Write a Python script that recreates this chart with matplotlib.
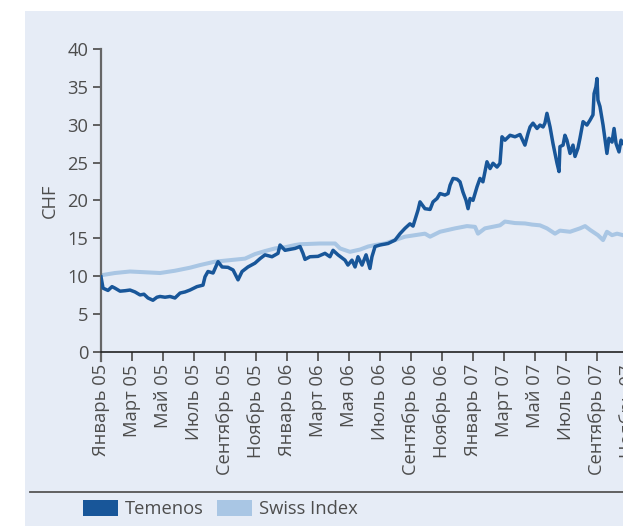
import matplotlib
matplotlib.use("Agg")
import matplotlib.pyplot as plt
from matplotlib.patches import Rectangle, Patch
from matplotlib.lines import Line2D

plt.rcParams['font.family'] = ['Open Sans', 'DejaVu Sans']

# month index (0 = January 2005)
temenos_m = [0.02, 0.15, 0.47, 0.73, 0.92, 1.25, 1.57, 1.89, 2.21, 2.54, 2.79, 3.05, 3.37, 3.63,
             3.83, 4.15, 4.47, 4.79, 5.12, 5.44, 5.76, 6.21, 6.60, 6.73, 6.92, 7.25, 7.57, 7.83,
             8.21, 8.54, 8.86, 9.12, 9.50, 9.95, 10.28, 10.60, 11.05, 11.44, 11.57, 11.89, 12.54,
             12.86, 13.05, 13.18, 13.50, 14.02, 14.47, 14.79, 14.99, 15.31, 15.76, 15.95, 16.21,
             16.41, 16.60, 16.86, 17.12, 17.37, 17.50, 17.70, 18.02, 18.54, 18.99, 19.31, 19.63,
             19.95, 20.15, 20.47, 20.60, 20.92, 21.25, 21.44, 21.70, 21.89, 22.21, 22.41, 22.54,
             22.73, 22.99, 23.18, 23.37, 23.57, 23.70, 23.83, 24.02, 24.28, 24.47, 24.66, 24.92,
             25.12, 25.31, 25.57, 25.76, 25.89, 26.08, 26.41, 26.73, 27.05, 27.37, 27.57, 27.70,
             27.89, 28.15, 28.34, 28.54, 28.66, 28.79, 28.99, 29.18, 29.31, 29.44, 29.57, 29.63,
             29.83, 29.95, 30.08, 30.28, 30.47, 30.60, 30.79, 30.92, 31.12, 31.37, 31.57, 31.76,
             31.83, 31.95, 32.02, 32.08, 32.21, 32.41, 32.54, 32.66, 32.79, 32.99, 33.12, 33.25,
             33.44, 33.57, 33.70, 34.02]
temenos_v = [9.9, 8.4, 8.1, 8.6, 8.4, 8.0, 8.06, 8.15, 7.9, 7.5, 7.6, 7.1, 6.8, 7.2,
             7.3, 7.2, 7.3, 7.1, 7.75, 7.9, 8.15, 8.6, 8.8, 9.9, 10.6, 10.4, 11.9, 11.2,
             11.15, 10.8, 9.5, 10.6, 11.2, 11.7, 12.3, 12.8, 12.55, 13.0, 14.1, 13.4, 13.65,
             13.9, 13.0, 12.2, 12.55, 12.6, 13.0, 12.55, 13.4, 12.8, 12.1, 11.45, 12.1,
             11.2, 12.55, 11.45, 12.8, 11.0, 12.55, 13.9, 14.1, 14.3, 14.75, 15.6, 16.3,
             16.9, 16.6, 18.7, 19.8, 18.9, 18.8, 19.8, 20.25, 20.9, 20.7, 20.9, 22.0,
             22.9, 22.8, 22.45, 21.1, 20.0, 18.9, 20.25, 20.0, 21.8, 22.9, 22.45, 25.1,
             24.2, 24.9, 24.4, 24.9, 28.4, 27.95, 28.6, 28.4, 28.7, 27.3, 28.85, 29.7,
             30.2, 29.5, 29.95, 29.7, 30.2, 31.5, 29.7, 27.5, 26.2, 24.9, 23.8, 27.1,
             27.3, 28.6, 27.95, 26.2, 27.3, 25.8, 26.9, 28.2, 30.4, 29.95, 30.6, 31.3,
             34.1, 35.0, 36.1, 33.25, 32.4, 29.95, 27.95, 26.2, 28.2, 27.7, 29.5, 27.5,
             26.4, 27.95, 27.5, 27.0]

swiss_m = [0.02, 0.92, 1.89, 2.86, 3.83, 4.79, 5.76, 6.41, 7.37, 8.34, 9.31, 9.95, 10.60,
           11.25, 11.89, 12.54, 12.86, 14.15, 15.12, 15.44, 16.08, 16.73, 17.25, 17.70, 18.34,
           18.99, 19.63, 20.28, 20.92, 21.25, 21.89, 22.86, 23.63, 24.15, 24.34, 24.79, 25.76,
           26.08, 26.73, 27.37, 27.83, 28.34, 28.79, 29.31, 29.63, 30.28, 30.92, 31.25, 31.57,
           32.08, 32.41, 32.66, 32.99, 33.31, 33.70, 34.02]
swiss_v = [10.1, 10.4, 10.6, 10.5, 10.4, 10.7, 11.1, 11.45, 11.9, 12.1, 12.3, 12.9, 13.3,
           13.65, 13.8, 14.1, 14.2, 14.3, 14.3, 13.65, 13.2, 13.5, 13.9, 14.1, 14.3,
           14.75, 15.2, 15.4, 15.6, 15.2, 15.85, 16.3, 16.6, 16.5, 15.6, 16.3, 16.7,
           17.2, 17.0, 16.95, 16.8, 16.7, 16.3, 15.6, 16.0, 15.85, 16.3, 16.6, 16.1,
           15.4, 14.75, 15.85, 15.4, 15.6, 15.4, 15.3]

tick_months = list(range(0, 36, 2))
tick_labels = ['Январь 05', 'Март 05', 'Май 05', 'Июль 05', 'Сентябрь 05', 'Ноябрь 05',
               'Январь 06', 'Март 06', 'Мая 06', 'Июль 06', 'Сентябрь 06', 'Ноябрь 06',
               'Январь 07', 'Март 07', 'Май 07', 'Июль 07', 'Сентябрь 07', 'Ноябрь 07']
y_ticks = [0, 5, 10, 15, 20, 25, 30, 35, 40]
series_names = ['Temenos', 'Swiss Index']

c_dark = '#185699'
c_light = '#A9C6E4'
txt = '#4d4d4d'
fs = 13.2

W, H = 623, 526
fig = plt.figure(figsize=(W / 100, H / 100), dpi=100)
fig.patch.set_facecolor('white')
fig.add_artist(Rectangle((25 / W, 0), 1.0, 1 - 11 / H, transform=fig.transFigure,
                         facecolor='#E6ECF6', edgecolor='none', zorder=0))

ax = fig.add_axes([100.7 / W, 1 - 360.8 / H, 35 * 15.5 / W, (360.8 - 49) / H])
ax.set_facecolor('none')
ax.plot(swiss_m, swiss_v, color=c_light, lw=2.9, zorder=2, solid_joinstyle='round')
ax.plot(temenos_m, temenos_v, color=c_dark, lw=2.5, zorder=3, solid_joinstyle='round')

ax.set_xlim(0, 35)
ax.set_ylim(-1.2, 40)
ax.spines['top'].set_visible(False)
ax.spines['right'].set_visible(False)
ax.spines['bottom'].set_position(('data', 0))
ax.spines['bottom'].set_color('#222222')
ax.spines['bottom'].set_linewidth(1.2)
ax.spines['left'].set_color('#666666')
ax.spines['left'].set_linewidth(1.6)

ax.set_xticks(tick_months)
ax.set_xticklabels(tick_labels, rotation=90, fontsize=fs, color=txt)
ax.set_yticks(y_ticks)
ax.set_yticklabels([str(v) for v in y_ticks], fontsize=fs, color=txt)
ax.tick_params(axis='x', direction='out', length=6.5, width=1.3, color='#555555', pad=2.5)
ax.tick_params(axis='y', direction='out', length=6, width=1.3, color='#555555', pad=3)

ax.set_ylabel('CHF', fontsize=fs, color=txt)
ax.yaxis.set_label_coords(-0.077, (20 + 1.2) / 41.2)

handles = [Patch(facecolor=c_dark, edgecolor='none'), Patch(facecolor=c_light, edgecolor='none')]
leg = fig.legend(handles, series_names, loc='center left', bbox_to_anchor=(83 / W, 1 - 509 / H),
                 ncol=2, frameon=False, fontsize=fs, handlelength=1.9, handleheight=0.93,
                 handletextpad=0.4, columnspacing=0.7, borderpad=0, borderaxespad=0)
for t in leg.get_texts():
    t.set_color(txt)

fig.add_artist(Line2D([30 / W, 1.0], [1 - 491.5 / H] * 2, transform=fig.transFigure,
                      color='#555555', lw=1.3))

fig.savefig('out.png', dpi=100)
